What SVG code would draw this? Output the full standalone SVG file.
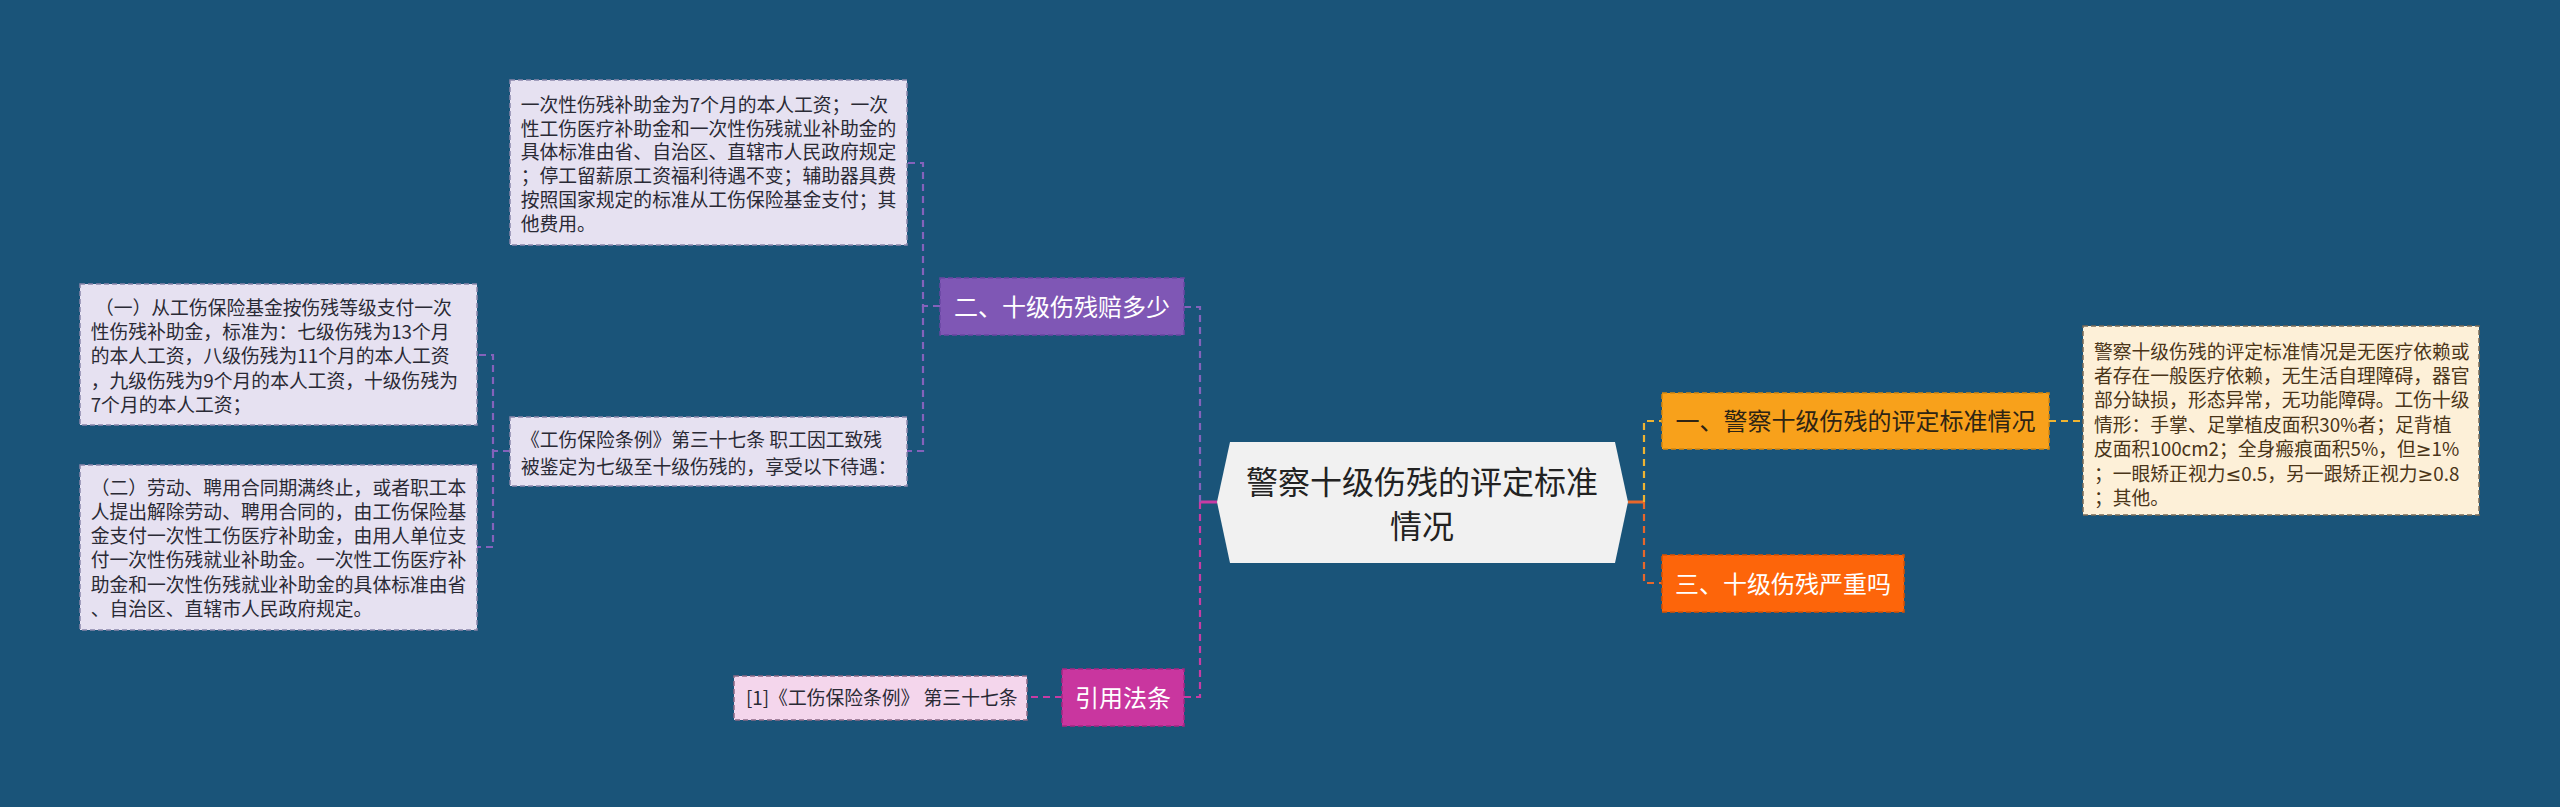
<svg xmlns="http://www.w3.org/2000/svg" width="2560" height="807" viewBox="0 0 2560 807">
<style>
text{font-family:"Noto Sans CJK SC","Noto Sans",sans-serif;}
.t{font-size:18.8px;fill:#2a2a35;}
.d{fill:#4a3518;}
.lat{font-family:"Noto Sans","DejaVu Sans",sans-serif;}
.n1{font-size:24px;text-anchor:middle;}
.leaf{fill:#e6e1f1;stroke:#8a86ab;stroke-width:1.5;stroke-dasharray:5 3;}
.c{fill:none;stroke-width:2.2;stroke-dasharray:7 5;}
.cp{stroke:#8462bb;}
.cm{stroke:#c83ba4;}
.cy{stroke:#efb431;}
.co{stroke:#e8672a;}
</style>
<rect width="2560" height="807" fill="#1a5479"/>
<g id="connectors">
<line x1="1200" y1="502" x2="1217" y2="502" stroke="#c83ba4" stroke-width="3"/>
<path class="c cp" d="M1200,502 V307 H1184"/>
<path class="c cm" d="M1200,502 V697 H1184"/>
<path class="c cp" d="M940,306 H923 V163 H907"/>
<path class="c cp" d="M923,306 V451 H907"/>
<path class="c cp" d="M510,451 H493 V355 H477"/>
<path class="c cp" d="M493,451 V547 H477"/>
<path class="c cm" d="M1062,697 H1027"/>
<line x1="1628" y1="502" x2="1644" y2="502" stroke="#e8672a" stroke-width="3"/>
<path class="c cy" d="M1644,502 V421 H1662"/>
<path class="c co" d="M1644,502 V583 H1662"/>
<path class="c cy" d="M2049,421 H2083"/>
</g>
<g id="center">
<polygon points="1230,442 1615,442 1628,502 1615,563 1230,563 1217,502" fill="#f1f1f1"/>
<text x="1422" y="494" font-size="32" text-anchor="middle" fill="#222">警察十级伤残的评定标准</text>
<text x="1422" y="538" font-size="32" text-anchor="middle" fill="#222">情况</text>
</g>
<g id="node1">
<rect x="1662" y="393" width="387" height="56" fill="#f8a11b" stroke="#d6860c" stroke-width="1.5" stroke-dasharray="5 3"/>
<text class="n1" x="1855.5" y="430" fill="#2e2414">一、警察十级伤残的评定标准情况</text>
</g>
<g id="node1-detail">
<rect x="2083" y="326" width="396" height="189" fill="#fdf0d8" stroke="#7a6a55" stroke-width="1.5" stroke-dasharray="5 3"/>
<text class="t d" x="2094" y="358.5">警察十级伤残的评定标准情况是无医疗依赖或</text>
<text class="t d" x="2094" y="382.9">者存在一般医疗依赖，无生活自理障碍，器官</text>
<text class="t d" x="2094" y="407.3">部分缺损，形态异常，无功能障碍。工伤十级</text>
<text class="t d" x="2094" y="431.7">情形：手掌、足掌植皮面积30%者；足背植</text>
<text class="t d" x="2094" y="456.1">皮面积100cm2；全身瘢痕面积5%，但<tspan class="lat">≥</tspan>1%</text>
<text class="t d" x="2094" y="480.5">；一眼矫正视力<tspan class="lat">≤</tspan>0.5，另一跟矫正视力<tspan class="lat">≥</tspan>0.8</text>
<text class="t d" x="2094" y="504.9">；其他。</text>
</g>
<g id="node2">
<rect x="940" y="278" width="244" height="57" fill="#7f57b5" stroke="#6a46a2" stroke-width="1.5" stroke-dasharray="5 3"/>
<text class="n1" x="1062" y="315.5" fill="#ffffff">二、十级伤残赔多少</text>
</g>
<g id="node2-top">
<rect class="leaf" x="510" y="80" width="397" height="165"/>
<text class="t" x="520.7" y="111.7">一次性伤残补助金为7个月的本人工资；一次</text>
<text class="t" x="520.7" y="135.5">性工伤医疗补助金和一次性伤残就业补助金的</text>
<text class="t" x="520.7" y="159.3">具体标准由省、自治区、直辖市人民政府规定</text>
<text class="t" x="520.7" y="183.1">；停工留薪原工资福利待遇不变；辅助器具费</text>
<text class="t" x="520.7" y="206.9">按照国家规定的标准从工伤保险基金支付；其</text>
<text class="t" x="520.7" y="230.7">他费用。</text>
</g>
<g id="node2-law">
<rect class="leaf" x="510" y="417" width="397" height="69"/>
<text class="t" x="521" y="447">《工伤保险条例》第三十七条 职工因工致残</text>
<text class="t" x="521" y="474">被鉴定为七级至十级伤残的，享受以下待遇：</text>
</g>
<g id="law-item1">
<rect class="leaf" x="80" y="284" width="397" height="141"/>
<text class="t" x="95" y="315">（一）从工伤保险基金按伤残等级支付一次</text>
<text class="t" x="90.7" y="339.2">性伤残补助金，标准为：七级伤残为13个月</text>
<text class="t" x="90.7" y="363.4">的本人工资，八级伤残为11个月的本人工资</text>
<text class="t" x="90.7" y="387.6">，九级伤残为9个月的本人工资，十级伤残为</text>
<text class="t" x="90.7" y="411.8">7个月的本人工资；</text>
</g>
<g id="law-item2">
<rect class="leaf" x="80" y="465" width="397" height="165"/>
<text class="t" x="90.7" y="494.7">（二）劳动、聘用合同期满终止，或者职工本</text>
<text class="t" x="90.7" y="518.9">人提出解除劳动、聘用合同的，由工伤保险基</text>
<text class="t" x="90.7" y="543.1">金支付一次性工伤医疗补助金，由用人单位支</text>
<text class="t" x="90.7" y="567.3">付一次性伤残就业补助金。一次性工伤医疗补</text>
<text class="t" x="90.7" y="591.5">助金和一次性伤残就业补助金的具体标准由省</text>
<text class="t" x="90.7" y="615.7">、自治区、直辖市人民政府规定。</text>
</g>
<g id="node3">
<rect x="1662" y="555" width="242" height="57" fill="#fd650a" stroke="#d85000" stroke-width="1.5" stroke-dasharray="5 3"/>
<text class="n1" x="1783" y="592.5" fill="#ffffff">三、十级伤残严重吗</text>
</g>
<g id="node-ref">
<rect x="1062" y="669" width="122" height="57" fill="#c9369f" stroke="#a52682" stroke-width="1.5" stroke-dasharray="5 3"/>
<text class="n1" x="1123" y="706.5" fill="#ffffff">引用法条</text>
</g>
<g id="node-ref-item">
<rect x="734" y="676" width="293" height="44" fill="#f4d6ec" stroke="#8a6a85" stroke-width="1.5" stroke-dasharray="5 3"/>
<text class="t" x="746" y="704.5">[1]《工伤保险条例》 第三十七条</text>
</g>
</svg>
